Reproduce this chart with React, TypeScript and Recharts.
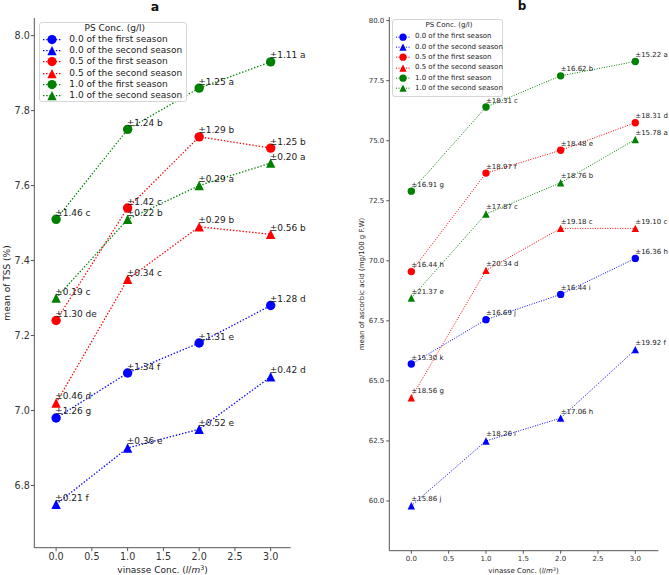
import React from 'react';
import { LineChart, Line, XAxis, YAxis, Legend } from 'recharts';

const FONT = '"DejaVu Sans", Verdana, sans-serif';

const VINASSE = [0, 1, 2, 3];
const X_TICKS = [0, 0.5, 1, 1.5, 2, 2.5, 3];

const SERIES_NAMES = [
  '0.0 of the first season',
  '0.0 of the second season',
  '0.5 of the first season',
  '0.5 of the second season',
  '1.0 of the first season',
  '1.0 of the second season',
];
const SERIES_COLORS = ['#0000ff', '#0000ff', '#ff0000', '#ff0000', '#008000', '#008000'];
const SERIES_SHAPES = ['circle', 'triangle', 'circle', 'triangle', 'circle', 'triangle'];

// panel a - TSS (%)
const TSS_00_S1 = [6.98, 7.1, 7.18, 7.28];
const TSS_00_S2 = [6.75, 6.9, 6.95, 7.09];
const TSS_05_S1 = [7.24, 7.54, 7.73, 7.7];
const TSS_05_S2 = [7.02, 7.35, 7.49, 7.47];
const TSS_10_S1 = [7.51, 7.75, 7.86, 7.93];
const TSS_10_S2 = [7.3, 7.51, 7.6, 7.66];

const TSS_00_S1_LBL = ['±1.26 g', '±1.34 f', '±1.31 e', '±1.28 d'];
const TSS_00_S2_LBL = ['±0.21 f', '±0.36 e', '±0.52 e', '±0.42 d'];
const TSS_05_S1_LBL = ['±1.30 de', '±1.42 c', '±1.29 b', '±1.25 b'];
const TSS_05_S2_LBL = ['±0.46 d', '±0.34 c', '±0.29 b', '±0.56 b'];
const TSS_10_S1_LBL = ['±1.46 c', '±1.24 b', '±1.25 a', '±1.11 a'];
const TSS_10_S2_LBL = ['±0.19 c', '±0.22 b', '±0.29 a', '±0.20 a'];

const TSS_TICKS = [6.8, 7.0, 7.2, 7.4, 7.6, 7.8, 8.0];

// panel b - ascorbic acid
const AA_00_S1 = [65.7, 67.55, 68.6, 70.1];
const AA_00_S2 = [59.8, 62.5, 63.45, 66.3];
const AA_05_S1 = [69.55, 73.65, 74.6, 75.75];
const AA_05_S2 = [64.3, 69.6, 71.35, 71.35];
const AA_10_S1 = [72.9, 76.4, 77.7, 78.3];
const AA_10_S2 = [68.45, 71.95, 73.25, 75.05];

const AA_00_S1_LBL = ['±15.30 k', '±16.69 j', '±16.44 i', '±16.36 h'];
const AA_00_S2_LBL = ['±15.86 j', '±18.26 i', '±17.06 h', '±19.92 f'];
const AA_05_S1_LBL = ['±16.44 h', '±18.97 f', '±18.48 e', '±18.31 d'];
const AA_05_S2_LBL = ['±18.56 g', '±20.34 d', '±19.18 c', '±19.10 c'];
const AA_10_S1_LBL = ['±16.91 g', '±18.31 c', '±16.62 b', '±15.22 a'];
const AA_10_S2_LBL = ['±21.37 e', '±17.87 c', '±18.76 b', '±15.78 a'];

const AA_TICKS = [60, 62.5, 65, 67.5, 70, 72.5, 75, 77.5, 80];

const Marker = ({ shape, cx, cy, r, color }: any) =>
  shape === 'circle' ? (
    <circle cx={cx} cy={cy} r={r} fill={color} />
  ) : (
    <polygon
      points={`${cx},${cy - r} ${cx - r},${cy + r} ${cx + r},${cy + r}`}
      fill={color}
    />
  );

const LegendBox = ({ lg }: any) => (
  <div
    style={{
      boxSizing: 'border-box',
      width: lg.width,
      border: '1px solid #d6d6d6',
      borderRadius: 3,
      background: 'rgba(255,255,255,0.85)',
      padding: `0 0 ${lg.padBottom}px ${lg.padLeft}px`,
      fontFamily: FONT,
      fontSize: lg.font,
      color: '#222',
      lineHeight: 1,
    }}
  >
    <div style={{ height: lg.titleH, display: 'flex', alignItems: 'center', justifyContent: 'center' }}>
      PS Conc. (g/l)
    </div>
    {SERIES_NAMES.map((name, k) => (
      <div key={name} style={{ height: lg.rowH, display: 'flex', alignItems: 'center', whiteSpace: 'nowrap' }}>
        <svg width={lg.swatchW} height={lg.rowH} style={{ display: 'block', flex: 'none' }}>
          <line
            x1={0}
            x2={lg.swatchW}
            y1={lg.rowH / 2}
            y2={lg.rowH / 2}
            stroke={SERIES_COLORS[k]}
            strokeWidth={lg.lineW}
            strokeDasharray={lg.dash}
          />
          <Marker shape={SERIES_SHAPES[k]} cx={lg.swatchW / 2} cy={lg.rowH / 2} r={lg.markerR} color={SERIES_COLORS[k]} />
        </svg>
        <span style={{ marginLeft: lg.gap }}>{name}</span>
      </div>
    ))}
  </div>
);

function Panel(p: any) {
  const rows = VINASSE.map((x, i) => {
    const row: any = { x };
    p.values.forEach((s: number[], k: number) => (row[`s${k}`] = s[i]));
    return row;
  });
  const axisColor = '#555';
  const tickStyle = { fill: '#333', fontSize: p.tickFont, fontFamily: FONT };
  return (
    <div style={{ position: 'absolute', left: p.left, top: 0, width: p.width, height: p.height }}>
      <LineChart
        width={p.width}
        height={p.height}
        data={rows}
        margin={{ top: p.top, right: p.right, bottom: 0, left: 0 }}
        style={{ overflow: 'visible' }}
      >
        <XAxis
          type="number"
          dataKey="x"
          domain={p.xDomain}
          ticks={X_TICKS}
          tickFormatter={(v: number) => v.toFixed(1)}
          height={p.xAxisH}
          tickSize={p.tickSize}
          tickMargin={p.xTickMargin}
          stroke={axisColor}
          tick={tickStyle}
        />
        <YAxis
          type="number"
          domain={p.yDomain}
          ticks={p.yTicks}
          tickFormatter={(v: number) => v.toFixed(1)}
          width={p.yAxisW}
          tickSize={p.tickSize}
          tickMargin={p.yTickMargin}
          stroke={axisColor}
          tick={tickStyle}
        />
        <Legend
          layout="vertical"
          align="center"
          verticalAlign="middle"
          wrapperStyle={{ left: p.legend.left, top: p.legend.top, width: p.legend.width, height: 'auto' }}
          content={() => <LegendBox lg={p.legend} />}
        />
        {p.values.map((_: number[], k: number) => (
          <Line
            key={`s${k}`}
            dataKey={`s${k}`}
            name={SERIES_NAMES[k]}
            stroke={SERIES_COLORS[k]}
            strokeWidth={p.lineW}
            strokeDasharray={p.dash}
            isAnimationActive={false}
            activeDot={false}
            dot={(d: any) => (
              <g key={`s${k}-${d.index}`}>
                <Marker shape={SERIES_SHAPES[k]} cx={d.cx} cy={d.cy} r={p.markerR} color={SERIES_COLORS[k]} />
                <text
                  x={d.cx + p.labelDx}
                  y={d.cy + p.labelDy}
                  fontSize={p.labelFont}
                  fontFamily={FONT}
                  fill="#222"
                >
                  {p.labels[k][d.index]}
                </text>
              </g>
            )}
          />
        ))}
      </LineChart>
      <div
        style={{
          position: 'absolute',
          left: p.titleX,
          top: p.titleY,
          transform: 'translate(-50%,-50%)',
          fontFamily: FONT,
          fontWeight: 'bold',
          fontSize: p.titleFont,
          color: '#111',
          lineHeight: 1,
        }}
      >
        {p.title}
      </div>
      <div
        style={{
          position: 'absolute',
          left: p.yLabelX,
          top: p.yLabelY,
          transform: 'translate(-50%,-50%) rotate(-90deg)',
          fontFamily: FONT,
          fontSize: p.axisLabelFont,
          color: '#222',
          whiteSpace: 'nowrap',
          lineHeight: 1,
        }}
      >
        {p.yLabel}
      </div>
      <div
        style={{
          position: 'absolute',
          left: p.xLabelX,
          top: p.xLabelY,
          transform: 'translate(-50%,-50%)',
          fontFamily: FONT,
          fontSize: p.axisLabelFont,
          color: '#222',
          whiteSpace: 'nowrap',
          lineHeight: 1,
        }}
      >
        vinasse Conc. (<i>l</i>/<i>m</i>
        <span style={{ fontSize: '0.7em', verticalAlign: '0.45em' }}>3</span>)
      </div>
    </div>
  );
}

export default function App() {
  return (
    <div style={{ position: 'absolute', left: 0, top: 0, width: 669, height: 575, background: '#fff', overflow: 'hidden' }}>
      <Panel
        left={0}
        width={335}
        height={575}
        top={18}
        right={44.3}
        xAxisH={27.3}
        yAxisW={34.3}
        xDomain={[-0.305, 3.28]}
        yDomain={[6.634, 8.047]}
        yTicks={TSS_TICKS}
        tickSize={3.5}
        xTickMargin={2.2}
        yTickMargin={1}
        tickFont={9.6}
        labelFont={9}
        labelDx={-1}
        labelDy={-3.5}
        markerR={4.7}
        lineW={1.3}
        dash="1.4 1.8"
        values={[TSS_00_S1, TSS_00_S2, TSS_05_S1, TSS_05_S2, TSS_10_S1, TSS_10_S2]}
        labels={[TSS_00_S1_LBL, TSS_00_S2_LBL, TSS_05_S1_LBL, TSS_05_S2_LBL, TSS_10_S1_LBL, TSS_10_S2_LBL]}
        legend={{
          left: 39.3,
          top: 22,
          width: 148,
          font: 9,
          titleH: 11,
          rowH: 11.2,
          padLeft: 3,
          padBottom: 0,
          swatchW: 18,
          gap: 8,
          markerR: 4.6,
          lineW: 1.3,
          dash: '1.4 1.8',
        }}
        title="a"
        titleX={155}
        titleY={7}
        titleFont={12.5}
        yLabel="mean of TSS (%)"
        yLabelX={7}
        yLabelY={283}
        xLabelX={162.5}
        xLabelY={570}
        axisLabelFont={9}
      />
      <Panel
        left={335}
        width={334}
        height={575}
        top={17}
        right={10.7}
        xAxisH={24.3}
        yAxisW={54.3}
        xDomain={[-0.295, 3.308]}
        yDomain={[57.93, 80.15]}
        yTicks={AA_TICKS}
        tickSize={3}
        xTickMargin={2.5}
        yTickMargin={2}
        tickFont={7}
        labelFont={7}
        labelDx={0}
        labelDy={-4.5}
        markerR={3.7}
        lineW={1}
        dash="1 1.5"
        values={[AA_00_S1, AA_00_S2, AA_05_S1, AA_05_S2, AA_10_S1, AA_10_S2]}
        labels={[AA_00_S1_LBL, AA_00_S2_LBL, AA_05_S1_LBL, AA_05_S2_LBL, AA_10_S1_LBL, AA_10_S2_LBL]}
        legend={{
          left: 57,
          top: 19,
          width: 111,
          font: 7,
          titleH: 11.5,
          rowH: 10.35,
          padLeft: 3,
          padBottom: 2,
          swatchW: 14,
          gap: 5,
          markerR: 3.6,
          lineW: 1,
          dash: '1 1.5',
        }}
        title="b"
        titleX={187}
        titleY={6}
        titleFont={12}
        yLabel="mean of ascorbic acid (mg/100 g F.W)"
        yLabelX={27}
        yLabelY={284}
        xLabelX={188.5}
        xLabelY={570.7}
        axisLabelFont={7}
      />
    </div>
  );
}
